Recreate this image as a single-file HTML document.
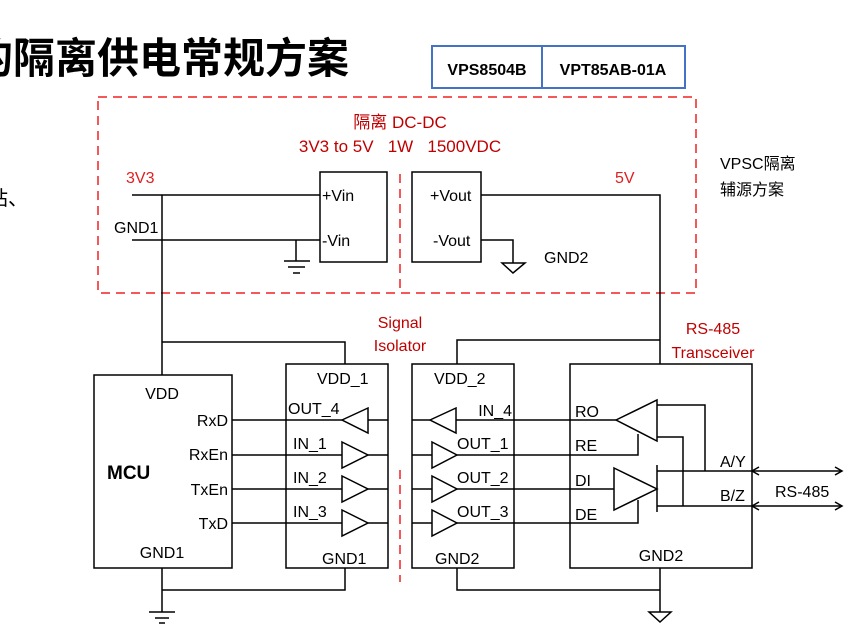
<!DOCTYPE html>
<html><head><meta charset="utf-8"><style>
html,body{margin:0;padding:0;background:#fff;width:850px;height:625px;overflow:hidden}
svg{display:block}
text{font-family:"Liberation Sans","Noto Sans CJK SC",sans-serif;font-size:16px;fill:#000}
.r{fill:#c00000}
</style></head><body>
<svg width="850" height="625" viewBox="0 0 850 625" xmlns="http://www.w3.org/2000/svg">
<text x="-29" y="73" style="font-size:42px;font-weight:bold">的隔离供电常规方案</text>
<text x="-12" y="205" style="font-size:20px">站、</text>
<!-- table -->
<rect x="432" y="46" width="253" height="42" fill="none" stroke="#4472c4" stroke-width="2"/>
<line x1="542" y1="46" x2="542" y2="88" stroke="#4472c4" stroke-width="2"/>
<text x="487" y="75" text-anchor="middle" style="font-weight:bold;font-size:16px">VPS8504B</text>
<text x="613" y="75" text-anchor="middle" style="font-weight:bold;font-size:16px">VPT85AB-01A</text>
<!-- red dashed -->
<rect x="98" y="97" width="598" height="196" fill="none" stroke="#f02020" stroke-width="1.5" stroke-dasharray="9,6"/>
<line x1="400" y1="174" x2="400" y2="293" stroke="#f02020" stroke-width="1.5" stroke-dasharray="9,6"/>
<line x1="400" y1="470" x2="400" y2="582" stroke="#f02020" stroke-width="1.5" stroke-dasharray="9,6"/>
<text x="400" y="128" text-anchor="middle" class="r" style="font-size:17px">隔离 DC-DC</text>
<text x="400" y="152" text-anchor="middle" class="r" style="font-size:17px" xml:space="preserve">3V3 to 5V   1W   1500VDC</text>
<text x="126" y="183" style="fill:#e02020">3V3</text>
<text x="615" y="183" style="fill:#e02020">5V</text>
<text x="720" y="169">VPSC隔离</text>
<text x="720" y="195">辅源方案</text>
<g stroke="#000" stroke-width="1.5" fill="none">
<rect x="320" y="172" width="67" height="90"/>
<rect x="412" y="172" width="69" height="90"/>
<line x1="132" y1="195" x2="320" y2="195"/>
<line x1="132" y1="240" x2="320" y2="240"/>
<line x1="162" y1="195" x2="162" y2="375"/>
<line x1="296" y1="240" x2="296" y2="261"/>
<line x1="284" y1="261" x2="310" y2="261"/>
<line x1="288" y1="267" x2="305" y2="267"/>
<line x1="293" y1="273" x2="300" y2="273"/>
<polyline points="481,195 660,195 660,364"/>
<polyline points="481,240 513,240 513,263"/>
<polygon points="502,263 525,263 513,273"/>
<polyline points="162,342 345,342 345,364"/>
<polyline points="660,340 457,340 457,364"/>
<rect x="94" y="375" width="138" height="193"/>
<line x1="232" y1="420" x2="342" y2="420"/>
<line x1="232" y1="455" x2="342" y2="455"/>
<line x1="232" y1="489" x2="342" y2="489"/>
<line x1="232" y1="523" x2="342" y2="523"/>
<line x1="162" y1="568" x2="162" y2="612"/>
<line x1="149" y1="612" x2="175" y2="612"/>
<line x1="155" y1="618" x2="169" y2="618"/>
<line x1="159" y1="623" x2="165" y2="623"/>
<polyline points="162,590 345,590 345,568"/>
<rect x="286" y="364" width="102" height="204"/>
<rect x="412" y="364" width="102" height="204"/>
<polygon points="342,420 368,408 368,433"/>
<line x1="368" y1="420" x2="388" y2="420"/>
<polygon points="342,442 368,455 342,468"/>
<line x1="368" y1="455" x2="388" y2="455"/>
<polygon points="342,476 368,489 342,502"/>
<line x1="368" y1="489" x2="388" y2="489"/>
<polygon points="342,510 368,523 342,536"/>
<line x1="368" y1="523" x2="388" y2="523"/>
<polygon points="430,420 456,408 456,433"/>
<line x1="412" y1="420" x2="430" y2="420"/>
<line x1="456" y1="420" x2="616" y2="420"/>
<polygon points="432,442 457,455 432,468"/>
<line x1="412" y1="455" x2="432" y2="455"/>
<polygon points="432,476 457,489 432,502"/>
<line x1="412" y1="489" x2="432" y2="489"/>
<polygon points="432,510 457,523 432,536"/>
<line x1="412" y1="523" x2="432" y2="523"/>
<polyline points="457,455 638,455 638,434"/>
<line x1="457" y1="489" x2="614" y2="489"/>
<polyline points="457,523 638,523 638,500"/>
<polyline points="457,568 457,590 660,590"/>
<rect x="570" y="364" width="182" height="204"/>
<polygon points="616,420 657,400 657,441"/>
<polyline points="657,405 705,405 705,471"/>
<polyline points="657,437 683,437 683,506"/>
<polygon points="614,468 657,489 614,510"/>
<line x1="657" y1="465" x2="657" y2="512"/>
<line x1="657" y1="471" x2="842" y2="471"/>
<line x1="657" y1="506" x2="842" y2="506"/>
<polyline points="759,467 752,471 759,475"/>
<polyline points="835,467 842,471 835,475"/>
<polyline points="759,502 752,506 759,510"/>
<polyline points="835,502 842,506 835,510"/>
<line x1="660" y1="568" x2="660" y2="612"/>
<polygon points="649,612 671,612 660,622"/>
</g>
<text x="322" y="201">+Vin</text>
<text x="322" y="246">-Vin</text>
<text x="430" y="201">+Vout</text>
<text x="433" y="246">-Vout</text>
<text x="114" y="233">GND1</text>
<text x="544" y="263">GND2</text>
<text x="400" y="328" text-anchor="middle" class="r">Signal</text>
<text x="400" y="351" text-anchor="middle" class="r">Isolator</text>
<text x="713" y="334" text-anchor="middle" class="r">RS-485</text>
<text x="713" y="358" text-anchor="middle" class="r">Transceiver</text>
<text x="162" y="399" text-anchor="middle">VDD</text>
<text x="107" y="479" style="font-weight:bold;font-size:19px">MCU</text>
<text x="228" y="426" text-anchor="end">RxD</text>
<text x="228" y="460" text-anchor="end">RxEn</text>
<text x="228" y="495" text-anchor="end">TxEn</text>
<text x="228" y="529" text-anchor="end">TxD</text>
<text x="162" y="558" text-anchor="middle">GND1</text>
<text x="317" y="384">VDD_1</text>
<text x="434" y="384">VDD_2</text>
<text x="288" y="414">OUT_4</text>
<text x="293" y="449">IN_1</text>
<text x="293" y="483">IN_2</text>
<text x="293" y="517">IN_3</text>
<text x="512" y="416" text-anchor="end">IN_4</text>
<text x="457" y="449">OUT_1</text>
<text x="457" y="483">OUT_2</text>
<text x="457" y="517">OUT_3</text>
<text x="322" y="564">GND1</text>
<text x="435" y="564">GND2</text>
<text x="575" y="417">RO</text>
<text x="575" y="451">RE</text>
<text x="575" y="486">DI</text>
<text x="575" y="520">DE</text>
<text x="720" y="467">A/Y</text>
<text x="720" y="501">B/Z</text>
<text x="775" y="497">RS-485</text>
<text x="661" y="561" text-anchor="middle">GND2</text>
</svg>
</body></html>
